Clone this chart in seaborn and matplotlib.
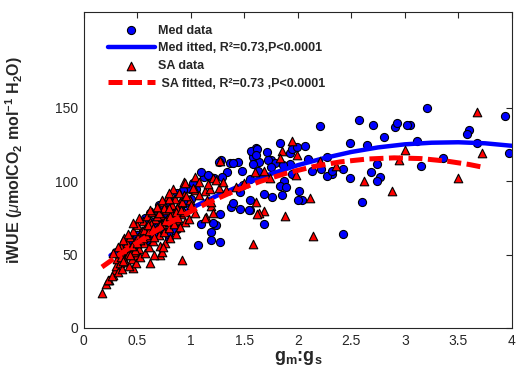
import matplotlib
matplotlib.use("Agg")
import matplotlib.pyplot as plt
import seaborn as sns

# Med data (blue circles)
med_x = [3.21, 3.94, 3.05, 3.11, 3.60, 3.58, 3.67, 3.97, 3.36, 3.15,
         2.57, 2.70, 2.91, 2.93, 3.02, 2.81, 2.49, 2.65, 2.74, 2.32, 2.42, 2.49, 2.68, 2.77, 2.74, 2.60, 2.42,
         2.21, 1.83, 2.07, 1.71, 1.61, 1.57, 1.93, 1.95, 1.75, 1.79, 1.58, 1.64, 1.93, 1.86, 2.10, 2.13, 2.22,
         2.27, 2.32, 1.63, 1.87, 1.83, 1.89, 2.01, 1.68, 1.76, 1.85, 2.04, 1.55, 1.68, 1.55, 2.27, 2.00,
         1.56, 1.62, 1.58, 1.37, 1.44, 1.48, 1.34, 1.28, 1.29, 1.22, 1.12, 1.18, 1.05, 0.99, 0.93, 1.38, 1.46,
         1.54, 1.27, 1.10, 1.24, 1.19, 1.19, 1.27, 1.07, 0.84, 1.26, 0.87, 0.80,
         1.39, 1.72, 1.75, 1.55, 1.49, 1.46, 1.39, 1.21, 1.10, 1.16, 1.02, 0.87, 0.80, 0.74, 0.83, 0.90,
         1.99, 1.95, 1.61,
         0.30, 0.35, 0.40, 0.45, 0.50, 0.55, 0.60, 0.65, 0.70, 0.75, 0.80, 0.76, 0.85, 0.80, 0.83, 0.79,
         0.77, 0.60, 0.65, 0.70, 0.50, 0.90, 0.95, 1.00, 0.57, 0.62, 0.70]
med_y = [150, 144.6, 138, 127.6, 135, 131.7, 126, 118.8, 116, 110,
         141.7, 138, 137, 139.6, 138, 130, 126, 124.6, 111.8, 105, 108, 102, 106, 103, 99.8, 86, 64.3,
         137.3, 126, 124, 120, 122.4, 120, 119, 122, 114.5, 112.4, 116.5, 113, 111.8, 110.7, 115, 106.6, 108,
         103.4, 106.6, 107, 100, 96.4, 96, 93.3, 91, 89.3, 90.7, 87, 87, 71, 80, 116.3, 87.3,
         120.4, 122, 111.8, 112, 113, 107, 106, 114, 103, 102, 103, 103, 94.8, 94.8, 93.7, 82.3, 81.2,
         80.5, 77.8, 70.6, 70, 65, 59.7, 58.6, 56.3, 67, 113, 67.7, 61,
         112, 114, 109.5, 101.6, 97, 92.5, 84.9, 71.3, 106, 103.9, 98.4, 91.6, 86.9, 84.9, 67.9, 80,
         123, 105, 117.4,
         52, 50, 57.5, 60, 63, 66, 68, 72, 75, 78, 83.5, 65, 66.5, 73, 66.5, 64,
         72, 60, 64, 70, 55, 78, 85, 88, 75, 78, 84]

# SA data (red triangles)
sa_x = [3.67, 3.72, 3.50, 3.00, 2.95, 2.36, 2.62, 2.88,
        1.95, 1.85, 1.99, 1.83, 2.21, 1.68, 1.74, 1.98, 2.11, 1.61, 1.68, 1.64, 1.88, 2.14, 1.58,
        1.27, 1.21, 0.94, 0.83, 1.13, 1.18, 1.60, 1.19, 1.21, 1.14, 0.95, 1.62, 0.92,
        0.46, 0.17, 0.21, 0.24, 0.27, 0.29, 0.71, 0.73, 0.95, 0.49, 0.38, 0.23, 0.26,
        1.04, 1.04, 1.08, 1.26, 1.30, 1.33, 1.15, 0.99, 0.90, 0.91, 0.87, 0.94, 1.08, 1.16, 1.24,
        1.13, 1.19, 1.42, 1.50,
        0.30, 0.31, 0.32, 0.33, 0.34, 0.35, 0.36, 0.37, 0.38, 0.39, 0.40, 0.41, 0.42, 0.43, 0.44,
        0.45, 0.46, 0.47, 0.48, 0.49, 0.50, 0.51, 0.52, 0.53, 0.54, 0.55, 0.56, 0.57, 0.58, 0.59,
        0.60, 0.61, 0.62, 0.63, 0.64, 0.65, 0.66, 0.67, 0.68, 0.69, 0.70, 0.71, 0.72, 0.73, 0.74,
        0.75, 0.76, 0.77, 0.78, 0.79, 0.80, 0.81, 0.82, 0.83, 0.84, 0.85, 0.86, 0.87, 0.88, 0.89,
        0.90, 0.92, 0.94, 0.96, 0.98, 1.00, 1.02, 1.04,
        0.53, 0.58, 0.63, 0.68, 0.48, 0.43, 0.38, 0.35, 0.56, 0.61, 0.66, 0.71, 0.76, 0.81, 0.86, 0.91,
        0.45, 0.50, 0.55, 0.60, 0.65, 0.70, 0.75, 0.80, 0.62, 0.52, 0.46, 0.41, 0.37, 0.32, 0.27,
        0.37, 0.62, 0.74, 0.68, 0.73, 0.80, 0.80]
sa_y = [147, 119, 101.8, 121, 114.5, 110, 100, 93,
        127.6, 120.4, 118, 115.7, 113.6, 106.6, 102.3, 104, 88.5, 86, 79.7, 78, 76.2, 62.7, 57.5,
        113.6, 102.3, 99.3, 94.8, 93.2, 94.8, 106, 82.8, 78.3, 75.6, 72.2, 77.8, 46.2,
        40.5, 24, 30, 33, 36, 39.4, 49.6, 51.8, 98.6, 48.9, 61, 32.6, 35.3,
        102.7, 93.7, 99.3, 95.5, 99.3, 93.7, 86.9, 86.9, 85.7, 77.8, 73.3, 90.3, 90.3, 98.2, 100.5,
        75, 85.7, 96, 99,
        42, 47, 38, 51, 44, 55, 40, 48, 53, 45, 58, 50, 42, 62, 55,
        47, 66, 52, 59, 44, 70, 62, 54, 48, 66, 73, 58, 51, 69, 76,
        62, 55, 72, 66, 79, 59, 50, 74, 68, 82, 63, 56, 77, 71, 86,
        65, 58, 80, 74, 90, 68, 61, 84, 78, 71, 88, 64, 82, 75, 92,
        69, 86, 79, 90, 74, 84, 95, 78,
        60, 63, 71, 76, 53, 50, 46, 48, 67, 66, 62, 70, 73, 76, 79, 80,
        56, 58, 61, 70, 68, 78, 82, 82, 80, 74.7, 71.3, 64.3, 59.7, 55.2, 50.7,
        45.7, 43.9, 55.2, 82.4, 86.9, 87.6, 91.6]

# fitted curves
med_fit_x = [0.25, 0.5, 0.75, 1.0, 1.25, 1.5, 1.75, 2.0, 2.25, 2.5, 2.75, 3.0, 3.25, 3.5, 3.75, 4.0]
med_fit_y = [49.4, 61.1, 71.7, 81.4, 90.2, 98.0, 104.9, 110.8, 115.7, 119.8, 122.9, 125.0, 126.1, 126.4, 125.7, 124.0]
sa_fit_x = [0.17, 0.4, 0.65, 0.9, 1.15, 1.4, 1.65, 1.9, 2.15, 2.4, 2.65, 2.9, 3.15, 3.4, 3.6, 3.75]
sa_fit_y = [41.5, 53.3, 65.1, 75.6, 84.9, 93.0, 99.8, 105.5, 109.9, 113.1, 115.0, 115.8, 115.3, 113.5, 111.3, 109.1]

x_ticks = [0, 0.5, 1, 1.5, 2, 2.5, 3, 3.5, 4]
x_tick_labels = ['0', '0.5', '1', '1.5', '2', '2.5', '3', '3.5', '4']
y_ticks = [0, 50, 100, 150]

sns.set_style('white')
plt.rcParams['font.family'] = ['Liberation Sans', 'DejaVu Sans']
plt.rcParams['mathtext.fontset'] = 'custom'
plt.rcParams['mathtext.rm'] = 'Liberation Sans'
plt.rcParams['mathtext.it'] = 'Liberation Sans:italic'
plt.rcParams['mathtext.bf'] = 'Liberation Sans:bold'

fig = plt.figure(figsize=(5.17, 3.90), dpi=100)
ax = fig.add_axes([0.162, 0.159, 0.828, 0.810])

sns.scatterplot(x=med_x, y=med_y, ax=ax, marker='o', color='#0000FF', edgecolor='black',
                linewidth=0.8, s=34, label='Med data', zorder=2)
sns.lineplot(x=med_fit_x, y=med_fit_y, ax=ax, color='#0000FF', linewidth=3.2,
             label='Med itted, R²=0.73,P<0.0001', zorder=3)
sns.scatterplot(x=sa_x, y=sa_y, ax=ax, marker='^', color='#FF0000', edgecolor='black',
                linewidth=0.8, s=38, label='SA data', zorder=4)
sns.lineplot(x=sa_fit_x, y=sa_fit_y, ax=ax, color='#FF0000', linewidth=3.6,
             linestyle=(0, (2.8, 1.1)), label=' SA fitted, R²=0.73 ,P<0.0001', zorder=5)

ax.set_xlim(0, 4)
ax.set_ylim(0, 215)
ax.set_xticks(x_ticks)
ax.set_xticklabels(x_tick_labels)
ax.set_yticks(y_ticks)
ax.tick_params(direction='in', top=True, right=True, length=4, width=0.8,
               labelsize=10, colors='#262626', pad=4)
for sp in ax.spines.values():
    sp.set_color('#262626')
    sp.set_linewidth(0.8)

ax.set_xlabel(r'g$_\mathbf{m}$:g$_\mathbf{s}$', fontsize=13, fontweight='bold', labelpad=1)
ax.set_ylabel(r'iWUE ($\mu$molCO$_\mathbf{2}$ mol$^\mathbf{-1}$ H$_\mathbf{2}$O)',
              fontsize=11.5, fontweight='bold')
ax.yaxis.set_label_coords(-0.137, 0.53)

leg = ax.legend(loc='upper left', bbox_to_anchor=(0.056, 0.96), frameon=False,
                borderaxespad=0, borderpad=0, handlelength=3.75, handletextpad=0.3,
                labelspacing=0.45, prop={'weight': 'bold', 'size': 9})

fig.savefig('out.png', dpi=100)
